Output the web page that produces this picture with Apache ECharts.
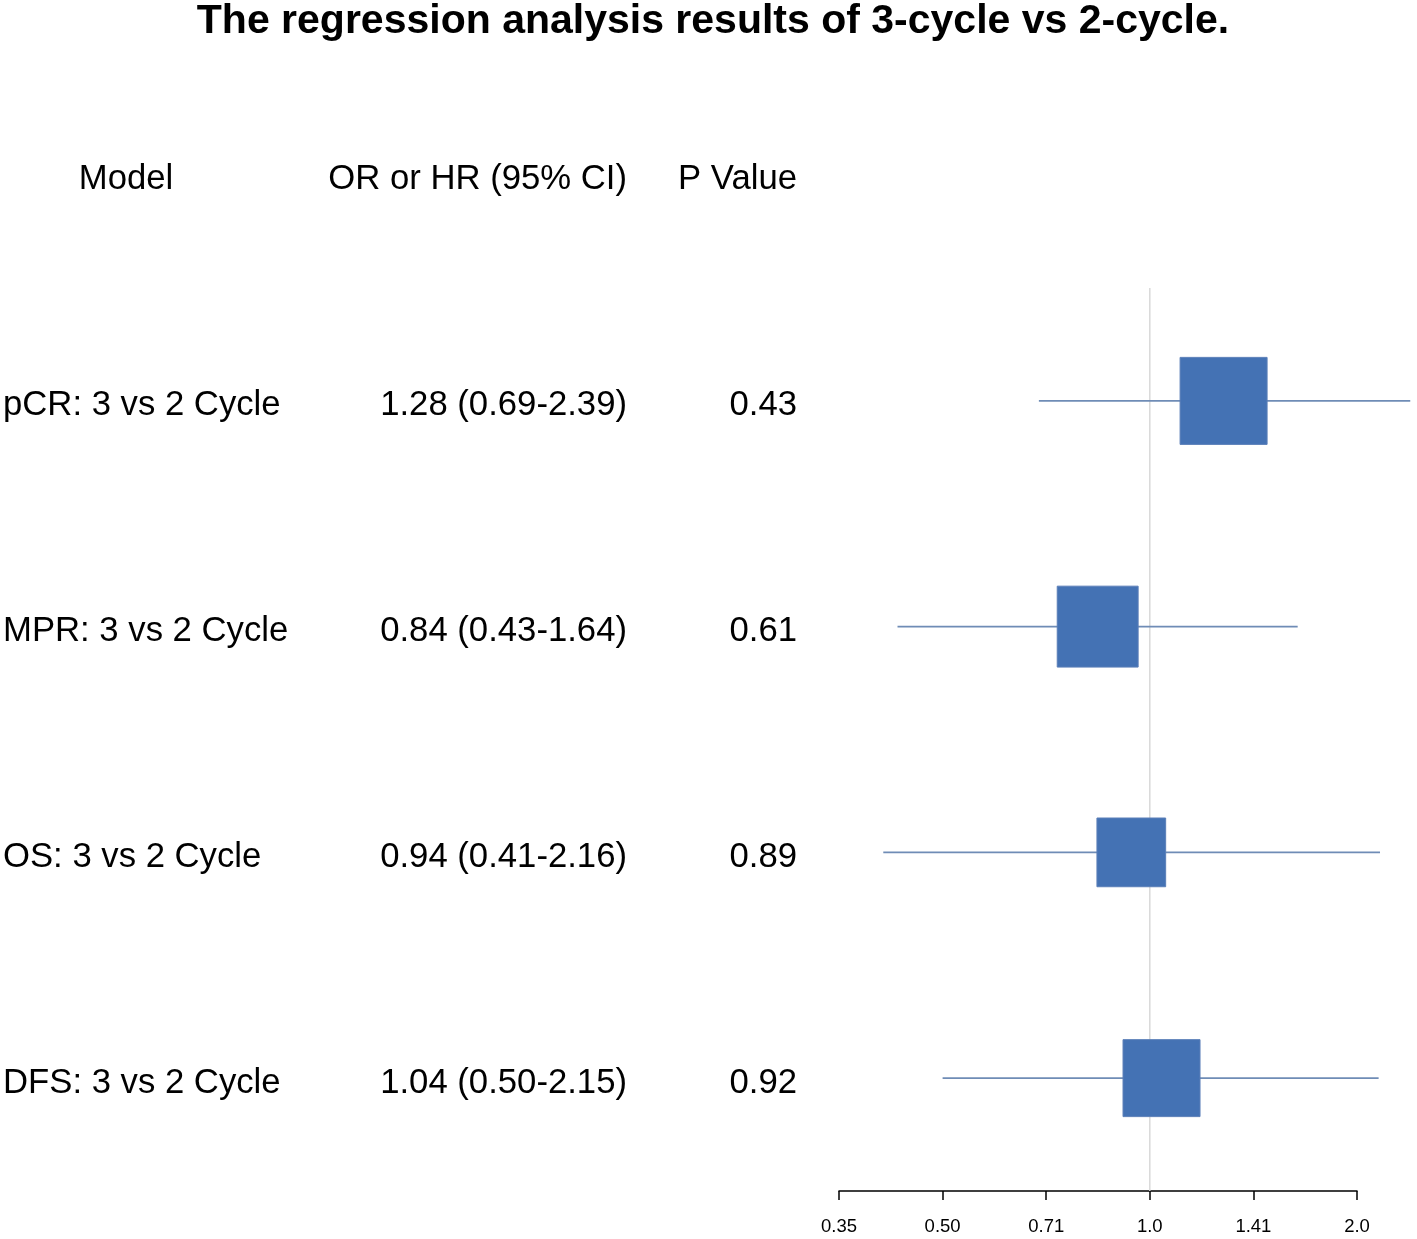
<!DOCTYPE html>
<html>
<head>
<meta charset="utf-8">
<script src="https://cdn.jsdelivr.net/npm/echarts@6/dist/echarts.min.js"></script>
<style>html,body{margin:0;padding:0;background:#fff;}#main{width:1417px;height:1239px;}</style>
</head>
<body>
<div id="main"></div>
<script>
const titleText = 'The regression analysis results of 3-cycle vs 2-cycle.';
const headers = ['Model', 'OR or HR (95% CI)', 'P Value'];
const models = ['pCR: 3 vs 2 Cycle', 'MPR: 3 vs 2 Cycle', 'OS: 3 vs 2 Cycle', 'DFS: 3 vs 2 Cycle'];
const estimates = [1.28, 0.84, 0.94, 1.04];
const lowerCI = [0.69, 0.43, 0.41, 0.50];
const upperCI = [2.39, 1.64, 2.16, 2.15];
const pValues = ['0.43', '0.61', '0.89', '0.92'];
const boxWeights = [1.0, 0.93, 0.79, 0.885];
const tickLabels = ['0.35', '0.50', '0.71', '1.0', '1.41', '2.0'];

const FONT = "'Liberation Sans', Arial, sans-serif";
const l2 = v => Math.log(v) / Math.LN2;

const forestData = models.map((m, i) => [l2(estimates[i]), i + 1, l2(lowerCI[i]), l2(upperCI[i]), boxWeights[i]]);
const textRows = [{row: 0, cols: headers, header: true}].concat(
  models.map((m, i) => ({row: i + 1, cols: [m, estimates[i].toFixed(2) + ' (' + lowerCI[i].toFixed(2) + '-' + upperCI[i].toFixed(2) + ')', pValues[i]], header: false}))
);

const chart = echarts.init(document.getElementById('main'), null, {renderer: 'canvas'});
chart.setOption({
  backgroundColor: '#fff',
  animation: false,
  title: {
    text: titleText, left: 708, top: -4, textAlign: 'center',
    textStyle: {fontFamily: FONT, fontWeight: 'bold', fontSize: 41, color: '#000'}
  },
  grid: {left: 839, right: 60, top: 288, height: 903, containLabel: false},
  xAxis: {
    type: 'value', min: -1.5, max: 1.0, interval: 0.5,
    splitLine: {show: false},
    axisLine: {show: true, lineStyle: {color: '#000', width: 1.5}},
    axisTick: {show: true, length: 9, lineStyle: {color: '#000', width: 1.5}},
    axisLabel: {
      fontFamily: FONT, fontSize: 18.5, color: '#000', margin: 26,
      formatter: (v) => { const idx = Math.round((v + 1.5) / 0.5); return tickLabels[idx] || ''; }
    }
  },
  yAxis: {type: 'value', inverse: true, min: 0.5, max: 4.5, show: false},
  series: [
    {
      type: 'line', data: [[0, 0.5], [0, 4.5]], symbol: 'none', silent: true,
      lineStyle: {color: '#d9d9d9', width: 1.5}, z: 1
    },
    {
      type: 'custom', clip: false, z: 3, data: forestData,
      renderItem: function (params, api) {
        const c = api.coord([api.value(0), api.value(1)]);
        const lo = api.coord([api.value(2), api.value(1)]);
        const hi = api.coord([api.value(3), api.value(1)]);
        const s = 87 * api.value(4);
        return {
          type: 'group',
          children: [
            {type: 'line', shape: {x1: lo[0], y1: lo[1], x2: hi[0], y2: hi[1]}, style: {stroke: '#6f8cb6', lineWidth: 1.6}},
            {type: 'rect', shape: {x: c[0] - s / 2, y: c[1] - s / 2, width: s, height: s}, style: {fill: '#4472B4', stroke: '#5b7fb8', lineWidth: 1}}
          ]
        };
      }
    },
    {
      type: 'custom', clip: false, z: 4, data: textRows.map(r => [r.row]),
      renderItem: function (params, api) {
        const r = textRows[params.dataIndex];
        const y = api.coord([0, r.row])[1] + (r.header ? 4 : 5);
        const base = {fontFamily: FONT, fontSize: 34.7, fill: '#000', textVerticalAlign: 'middle'};
        return {
          type: 'group',
          children: [
            {type: 'text', x: r.header ? 126 : 3, y: y, style: Object.assign({}, base, {text: r.cols[0], textAlign: r.header ? 'center' : 'left'})},
            {type: 'text', x: 627, y: y, style: Object.assign({}, base, {text: r.cols[1], textAlign: 'right'})},
            {type: 'text', x: 797, y: y, style: Object.assign({}, base, {text: r.cols[2], textAlign: 'right'})}
          ]
        };
      }
    }
  ]
});
</script>
</body>
</html>
